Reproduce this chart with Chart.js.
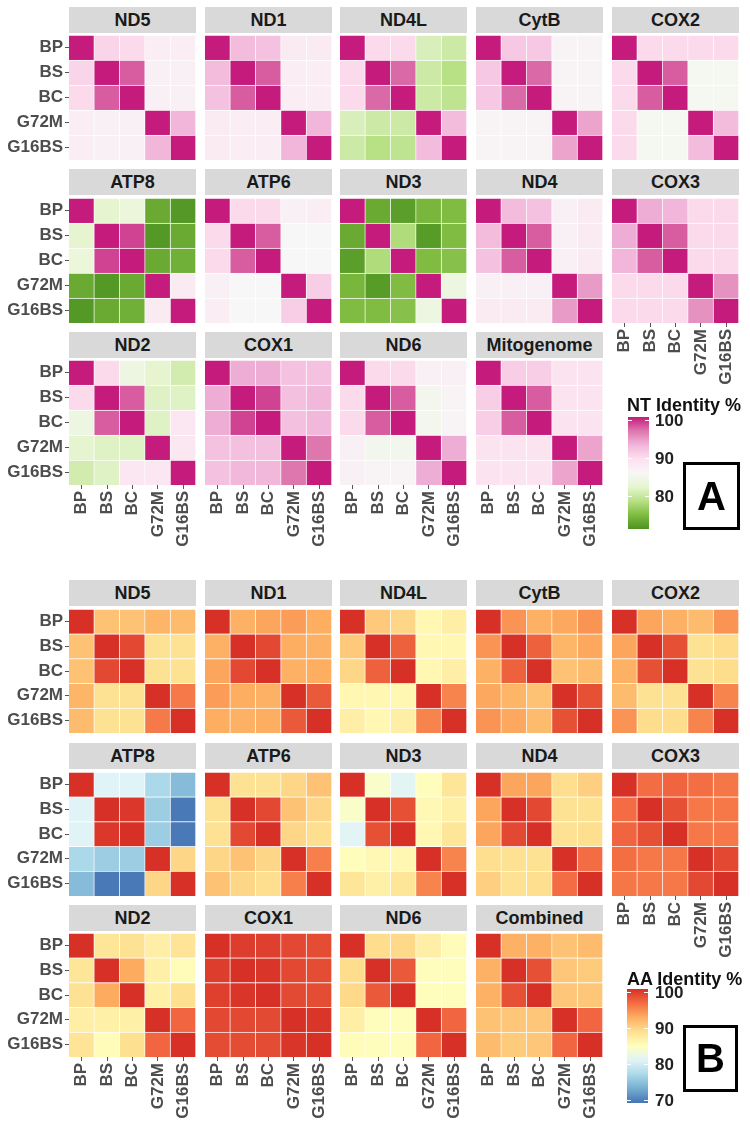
<!DOCTYPE html>
<html>
<head>
<meta charset="utf-8">
<script src="https://cdn.jsdelivr.net/npm/chart.js@4.4.1/dist/chart.umd.min.js"></script>
<style>
  body { margin: 0; background: #fff; width: 750px; height: 1127px; position: relative; overflow: hidden;
         font-family: "Liberation Sans", Arial, sans-serif; }
  .strip { position: absolute; background: #d9d9d9; color: #1a1a1a; font-weight: bold; font-size: 18px;
           display: flex; align-items: center; justify-content: center; }
  canvas { position: absolute; }
  .lab { position: absolute; font-weight: bold; white-space: nowrap; line-height: 1; }
  .bar { position: absolute; }
  .tick { position: absolute; background: #fff; height: 1px; width: 4px; }
  .box { position: absolute; border: 3px solid #000; box-sizing: border-box; display: flex;
         align-items: center; justify-content: center; font-weight: bold; font-size: 40px; }
</style>
</head>
<body>
<script>
const rowLabels = ['BP', 'BS', 'BC', 'G72M', 'G16BS'];

const ntGenes = ['ND5', 'ND1', 'ND4L', 'CytB', 'COX2', 'ATP8', 'ATP6', 'ND3', 'ND4', 'COX3', 'ND2', 'COX1', 'ND6', 'Mitogenome'];
const aaGenes = ['ND5', 'ND1', 'ND4L', 'CytB', 'COX2', 'ATP8', 'ATP6', 'ND3', 'ND4', 'COX3', 'ND2', 'COX1', 'ND6', 'Combined'];

// pairwise identity %, order:
// BP-BS, BP-BC, BP-G72M, BP-G16BS, BS-BC, BS-G72M, BS-G16BS, BC-G72M, BC-G16BS, G72M-G16BS
const ntIdentity = [
  [90.5, 90, 87.5, 87.5, 97.5, 87, 87, 87, 87, 93],          // ND5
  [92.5, 92, 88, 88, 97.5, 87.5, 87.5, 87.5, 87.5, 93],      // ND1
  [90, 90, 81.5, 80.5, 97, 80.5, 79, 80.5, 79.5, 92.5],      // ND4L
  [91.5, 91.5, 86.5, 86.5, 97, 86.5, 86.5, 86.5, 86.5, 94],  // CytB
  [90, 90, 90, 90, 97.5, 85.5, 85.5, 85.5, 85.5, 92.5],      // COX2
  [82.5, 83.5, 74, 72.5, 98.5, 72.5, 74, 74, 74.5, 88],      // ATP8
  [90, 90, 87, 87.5, 97.5, 86, 86, 86, 86, 91],              // ATP6
  [74, 73, 75, 75.5, 78.5, 72.8, 75.5, 75.5, 76, 84],        // ND3
  [92.5, 92, 87, 88, 97.5, 87, 88, 87, 88, 94.5],            // ND4
  [93.5, 93, 90, 90, 97.5, 90, 90, 90, 90, 95],              // COX3
  [90, 84, 82.5, 81, 97.5, 82, 82, 82, 88.5, 88.5],          // ND2
  [93.5, 93.5, 92, 92, 98.5, 92.2, 92.8, 92.2, 92.8, 96.5],  // COX1
  [90, 90, 87, 87, 97.5, 85, 86.5, 85, 86.5, 93.5],          // ND6
  [91, 91, 89, 89, 97.5, 89, 89, 89, 89, 94]                 // Mitogenome
];

const aaIdentity = [
  [91, 91, 92, 91.5, 98.5, 88.5, 88.5, 88.5, 88.5, 95.5],    // ND5
  [92.3, 93, 93.5, 92.5, 98.5, 92.5, 92.3, 92.3, 92.5, 97.5],// ND1
  [90.5, 89.5, 86, 87, 97, 86, 86, 86, 87, 95],              // ND4L
  [94, 92.3, 92.8, 94, 97, 92, 92.8, 91, 91.5, 98],          // CytB
  [93, 92.3, 91.5, 94, 98, 88.5, 89, 88.5, 89, 95],          // COX2
  [81.3, 81.3, 77.5, 75, 99.5, 76.5, 70.3, 76.5, 70.3, 89.5],// ATP8
  [88.5, 88.5, 89.5, 91, 98.5, 91, 89.5, 89.5, 88.8, 95.2],  // ATP6
  [84.3, 81.5, 85.3, 88, 98, 85.8, 86.8, 86, 88, 95],        // ND3
  [93, 93, 88.8, 90, 98.5, 88.5, 88.5, 88.5, 88.8, 96.3],    // ND4
  [96.3, 96.8, 96.2, 95.7, 98, 95.6, 95.6, 95.6, 95.6, 98.5],// COX3
  [88, 88.5, 87, 88.3, 92.7, 86.8, 85.5, 86.8, 88.7, 96.7],  // ND2
  [99.2, 99, 98.5, 98.3, 99.7, 98.5, 98.3, 98.4, 98.3, 99.7],// COX1
  [89, 89.3, 87, 85.5, 97.5, 85.3, 85.3, 85.3, 85.3, 96.7],  // ND6
  [92.3, 92.3, 91, 91.5, 98, 90.7, 90.3, 90.7, 90.7, 96.7]   // Combined
];

// colour ramps, from the top of the range (100) down to the bottom
const ntColors = ['#c51b7d', '#de77ae', '#f1b6da', '#fde0ef', '#f7f7f7', '#e6f5d0', '#b8e186', '#7fbc41', '#4d9221'];
const aaColors = ['#d73027', '#f46d43', '#fdae61', '#fee090', '#ffffbf', '#e0f3f8', '#abd9e9', '#74add1', '#4575b4'];
const ntRange = [72, 100];
const aaRange = [70, 100];
const ntLegendTicks = [100, 90, 80];
const aaLegendTicks = [100, 90, 80, 70];

const colX = [69, 205, 340, 476, 612];
const panelW = 127;
const stripH = 26;

function hexToRgb(h) {
  const n = parseInt(h.slice(1), 16);
  return [(n >> 16) & 255, (n >> 8) & 255, n & 255];
}

function fillColor(v, colors, range) {
  const t = (range[1] - v) / (range[1] - range[0]) * (colors.length - 1);
  const i = Math.min(colors.length - 2, Math.max(0, Math.floor(t)));
  const f = Math.min(1, Math.max(0, t - i));
  const a = hexToRgb(colors[i]), b = hexToRgb(colors[i + 1]);
  return 'rgb(' + a.map((c, k) => Math.round(c + (b[k] - c) * f)).join(',') + ')';
}

function toMatrix(p) {
  const pairs = [[0, 1], [0, 2], [0, 3], [0, 4], [1, 2], [1, 3], [1, 4], [2, 3], [2, 4], [3, 4]];
  const m = rowLabels.map(() => rowLabels.map(() => 100));
  pairs.forEach(([i, j], k) => { m[i][j] = p[k]; m[j][i] = p[k]; });
  return m;
}

function addDiv(cls, css, text) {
  const d = document.createElement('div');
  d.className = cls;
  Object.assign(d.style, css);
  if (text !== undefined) d.textContent = text;
  document.body.appendChild(d);
  return d;
}

const tickFont = { family: '"Liberation Sans", Arial, sans-serif', size: 17, weight: 'bold' };

function drawPanel(gene, values, colors, range, left, top, tileH, showY, showX) {
  const m = toMatrix(values);
  const padL = showY ? left : 0;
  const padB = showX ? 75 : 0;

  const canvas = document.createElement('canvas');
  canvas.width = panelW + padL;
  canvas.height = tileH + padB;
  canvas.style.left = (left - padL) + 'px';
  canvas.style.top = top + 'px';
  canvas.style.width = canvas.width + 'px';
  canvas.style.height = canvas.height + 'px';
  document.body.appendChild(canvas);

  // stacked from the bottom: G16BS first, BP on top
  const datasets = rowLabels.map((_, k) => {
    const r = rowLabels.length - 1 - k;
    return {
      label: rowLabels[r],
      data: rowLabels.map(() => 1),
      backgroundColor: m[r].map(v => fillColor(v, colors, range)),
      borderColor: 'rgba(255,255,255,0.55)',
      borderWidth: { top: 1, right: 1, bottom: 0, left: 0 },
      borderSkipped: false,
      barPercentage: 1,
      categoryPercentage: 1
    };
  });

  new Chart(canvas.getContext('2d'), {
    type: 'bar',
    data: { labels: rowLabels, datasets: datasets },
    options: {
      responsive: false,
      animation: false,
      layout: { padding: 0 },
      plugins: { legend: { display: false }, tooltip: { enabled: false } },
      scales: {
        x: {
          stacked: true,
          display: showX,
          offset: true,
          border: { display: false },
          grid: { offset: false, drawOnChartArea: false, tickLength: 4, tickColor: '#555' },
          ticks: { minRotation: 90, maxRotation: 90, padding: 2, color: '#4d4d4d', font: tickFont, autoSkip: false },
          afterFit: s => { s.height = padB; s.paddingLeft = 0; s.paddingRight = 0; }
        },
        y: {
          stacked: true,
          display: showY,
          min: 0,
          max: rowLabels.length,
          border: { display: false },
          grid: { drawOnChartArea: false, tickLength: 4, tickColor: '#555' },
          afterBuildTicks: s => { s.ticks = [4.5, 3.5, 2.5, 1.5, 0.5].map(v => ({ value: v })); },
          ticks: {
            padding: 2, color: '#4d4d4d', font: tickFont, autoSkip: false,
            callback: v => rowLabels[rowLabels.length - 1 - Math.floor(v)]
          },
          afterFit: s => { s.width = padL; s.paddingTop = 0; s.paddingBottom = 0; }
        }
      }
    }
  });
}

function drawSection(genes, values, colors, range, stripTops, tileTops, tileH) {
  genes.forEach((gene, g) => {
    const row = Math.floor(g / 5), col = g % 5;
    const left = colX[col];
    addDiv('strip', { left: left + 'px', top: stripTops[row] + 'px', width: panelW + 'px', height: stripH + 'px' }, gene);
    const showY = col === 0;
    const showX = row === 2 || (row === 1 && col === 4);
    drawPanel(gene, values[g], colors, range, left, tileTops[row], tileH, showY, showX);
  });
}

function drawLegend(title, colors, range, ticks, titleTop, barLeft, barTop, barH, box, letter) {
  addDiv('lab', { left: '627px', top: titleTop + 'px', fontSize: '18px', color: '#111' }, title);
  const stops = colors.map((c, i) => c + ' ' + (i / (colors.length - 1) * 100).toFixed(1) + '%').join(',');
  addDiv('bar', { left: barLeft + 'px', top: barTop + 'px', width: '21px', height: barH + 'px',
                  background: 'linear-gradient(to bottom,' + stops + ')' });
  ticks.forEach(t => {
    const y = barTop + 3 + (range[1] - t) / (range[1] - range[0]) * (barH - 6);
    addDiv('tick', { left: barLeft + 'px', top: Math.round(y) + 'px' });
    addDiv('tick', { left: (barLeft + 17) + 'px', top: Math.round(y) + 'px' });
    addDiv('lab', { left: '655px', top: y + 'px', fontSize: '17px', color: '#222', transform: 'translateY(-50%)' }, String(t));
  });
  addDiv('box', { left: box[0] + 'px', top: box[1] + 'px', width: box[2] + 'px', height: box[3] + 'px' }, letter);
}

Chart.defaults.font.family = '"Liberation Sans", Arial, sans-serif';

drawSection(ntGenes, ntIdentity, ntColors, ntRange, [7, 169, 332], [35, 198, 360], 125);
drawSection(aaGenes, aaIdentity, aaColors, aaRange, [580, 743, 905], [609, 772, 933], 124);

drawLegend('NT Identity %', ntColors, ntRange, ntLegendTicks, 396, 628, 417, 112, [683, 462, 57, 68], 'A');
drawLegend('AA Identity %', aaColors, aaRange, aaLegendTicks, 970, 627, 989, 114, [683, 1025, 55, 67], 'B');
</script>
</body>
</html>
